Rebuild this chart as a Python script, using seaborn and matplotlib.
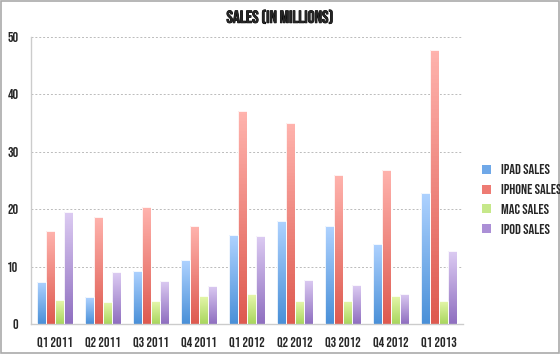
import numpy as np
import pandas as pd
import matplotlib
matplotlib.use('Agg')
import matplotlib.pyplot as plt
import matplotlib.patheffects as pe
import seaborn as sns
from matplotlib.colors import LinearSegmentedColormap
from matplotlib.patches import Rectangle

quarters = ['Q1 2011', 'Q2 2011', 'Q3 2011', 'Q4 2011', 'Q1 2012',
            'Q2 2012', 'Q3 2012', 'Q4 2012', 'Q1 2013']
ipad = [7.33, 4.69, 9.25, 11.12, 15.43, 18.0, 17.04, 14.0, 22.9]
iphone = [16.24, 18.65, 20.34, 17.07, 37.04, 35.1, 26.0, 26.9, 47.8]
mac = [4.13, 3.76, 3.95, 4.89, 5.2, 4.0, 4.02, 4.9, 4.06]
ipod = [19.45, 9.02, 7.54, 6.62, 15.4, 7.7, 6.75, 5.3, 12.7]
series = ['IPAD SALES', 'IPHONE SALES', 'MAC SALES', 'IPOD SALES']

# (top colour, bottom colour) per series
grad = {
    'IPAD SALES': ('#aed2ff', '#4a90d8'),
    'IPHONE SALES': ('#ffb3ad', '#de5a50'),
    'MAC SALES': ('#e6f7ac', '#a9d65e'),
    'IPOD SALES': ('#dccbf2', '#8f6fc0'),
}
legend_col = {'IPAD SALES': '#6fa8e8', 'IPHONE SALES': '#ee7b73',
              'MAC SALES': '#c6e88a', 'IPOD SALES': '#ab8fd6'}

df = pd.DataFrame({'quarter': quarters, 'IPAD SALES': ipad,
                   'IPHONE SALES': iphone, 'MAC SALES': mac,
                   'IPOD SALES': ipod})
df = df.melt(id_vars='quarter', var_name='series', value_name='sales')

sns.set_style('white')
plt.rcParams['font.family'] = ['Bebas Neue', 'DejaVu Sans']

fig = plt.figure(figsize=(5.6, 3.54), dpi=100)
ax = fig.add_axes([0.0554, 0.0847, 0.7706, 0.8108])

sns.barplot(data=df, x='quarter', y='sales', hue='series', hue_order=series,
            palette=legend_col, width=0.75, ax=ax, legend=False,
            edgecolor='white', linewidth=0.6)

# vertical gradient fill for each bar
for container, name in zip(ax.containers, series):
    cmap = LinearSegmentedColormap.from_list(name, [grad[name][1], grad[name][0]])
    for bar in container:
        x, y = bar.get_x(), bar.get_y()
        w, h = bar.get_width(), bar.get_height()
        g = np.linspace(0, 1, 64).reshape(-1, 1)
        im = ax.imshow(g, cmap=cmap, origin='lower', aspect='auto',
                       extent=[x, x + w, y, y + h], zorder=2)
        im.set_clip_path(bar)
        bar.set_facecolor('none')
        bar.set_zorder(3)

ax.set_xlim(-0.5, len(quarters) - 0.5)
ax.set_ylim(0, 50)

ax.set_yticks([0, 10, 20, 30, 40, 50])
ax.yaxis.grid(True, linestyle=(0, (2, 2)), color='#bbbbbb', linewidth=0.7)
ax.set_axisbelow(True)
ax.tick_params(axis='y', length=0, labelsize=10, pad=9)
ax.tick_params(axis='x', which='major', length=0, labelsize=10, pad=9)
ax.set_xticks(np.arange(-0.5, len(quarters)), minor=True)
ax.tick_params(axis='x', which='minor', length=4, color='#cccccc', width=0.8)
ax.set_xlabel('')
ax.set_ylabel('')
for s in ['top', 'right']:
    ax.spines[s].set_visible(False)
for s in ['left', 'bottom']:
    ax.spines[s].set_color('#cccccc')
    ax.spines[s].set_linewidth(1.0)

fig.text(0.5, 0.952, 'SALES (IN MILLIONS)', ha='center', va='center',
         fontsize=12.5,
         path_effects=[pe.withStroke(linewidth=0.6, foreground='black')])

handles = [Rectangle((0, 0), 1, 1, facecolor=legend_col[n], edgecolor='none')
           for n in series]
fig.legend(handles, series, loc='upper left', bbox_to_anchor=(0.838, 0.572),
           frameon=False, fontsize=10.3, handlelength=0.6, handleheight=0.6,
           handletextpad=0.7, labelspacing=0.68)

fig.patches.append(Rectangle((0.001, 0.002), 0.997, 0.995, transform=fig.transFigure,
                             fill=False, edgecolor='#aaaaaa', linewidth=1.2))

fig.savefig('out.png', dpi=100)
